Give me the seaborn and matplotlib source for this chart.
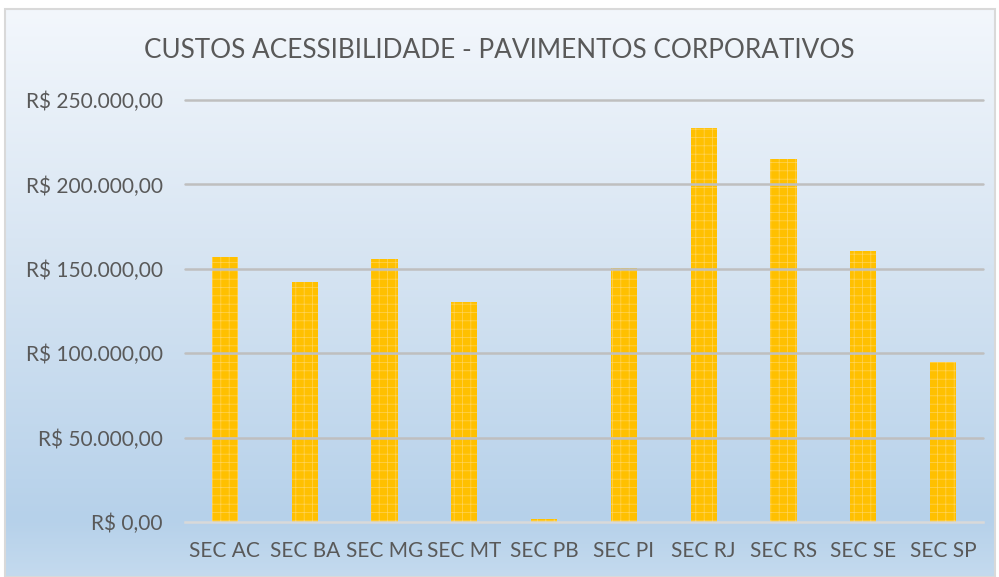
import numpy as np
import pandas as pd
import seaborn as sns
import matplotlib.pyplot as plt
from matplotlib.colors import LinearSegmentedColormap
from matplotlib.ticker import FuncFormatter
from matplotlib.patches import Rectangle

# data
secretarias = ['SEC AC', 'SEC BA', 'SEC MG', 'SEC MT', 'SEC PB',
               'SEC PI', 'SEC RJ', 'SEC RS', 'SEC SE', 'SEC SP']
custos = [157000, 142200, 155800, 130300, 1800,
          150500, 233400, 215000, 160500, 94800]
titulo = 'CUSTOS ACESSIBILIDADE - PAVIMENTOS CORPORATIVOS'

df = pd.DataFrame({'secretaria': secretarias, 'custo': custos})

sns.set_style('white')
plt.rcParams['font.family'] = ['Lato', 'DejaVu Sans']
plt.rcParams['hatch.linewidth'] = 0.5

fig = plt.figure(figsize=(9.99, 5.77), dpi=100)

# gradient background of the chart area
bg = fig.add_axes([5 / 999, 0, 990 / 999, 568 / 577], zorder=-2)
cmap = LinearSegmentedColormap.from_list(
    'bg', [(0.0, '#f3f7fc'), (0.45, '#d6e4f2'), (0.9, '#b6d1ea'), (1.0, '#c4daee')])
grad = np.linspace(0, 1, 256).reshape(-1, 1)
bg.imshow(grad, aspect='auto', cmap=cmap, extent=[0, 1, 1, 0])
bg.set_xlim(0, 1)
bg.set_ylim(1, 0)
bg.axis('off')
fig.patches.append(Rectangle((5 / 999, 0), 990 / 999, 568 / 577, transform=fig.transFigure,
                             fill=False, edgecolor='#d9d9d9', linewidth=1.5))

ax = fig.add_axes([185 / 999, 1 - 522 / 577, 798 / 999, 422 / 577])
ax.patch.set_alpha(0)
sns.barplot(df, x='secretaria', y='custo', color='#ffc000', width=0.33,
            saturation=1, ax=ax, zorder=2)
for p in ax.patches:
    p.set_hatch('++')
    p.set_edgecolor('#ffd45a')
    p.set_linewidth(0)

ax.set_ylim(0, 250000)
ax.set_yticks(np.arange(0, 250001, 50000))
ax.yaxis.set_major_formatter(FuncFormatter(
    lambda v, _: 'R$ ' + f'{v:,.2f}'.replace(',', 'X').replace('.', ',').replace('X', '.')))
ax.grid(axis='y', color='#bfbfbf', linewidth=1.8, zorder=3)
ax.set_axisbelow(False)
for s in ['top', 'right', 'left']:
    ax.spines[s].set_visible(False)
ax.spines['bottom'].set_color('#d9d9d9')
ax.spines['bottom'].set_linewidth(1.8)
ax.tick_params(axis='both', length=0, labelsize=15, colors='#595959')
ax.tick_params(axis='y', pad=16)
ax.tick_params(axis='x', pad=14)
ax.set_xlabel('')
ax.set_ylabel('')
for line in ax.get_ygridlines():
    line.set_clip_on(False)
ax.yaxis.get_gridlines()[0].set_visible(False)

fig.text(0.5, 1 - 50 / 577, titulo, ha='center', va='center', fontsize=18.8, color='#595959')

fig.savefig('out.png', dpi=100)
